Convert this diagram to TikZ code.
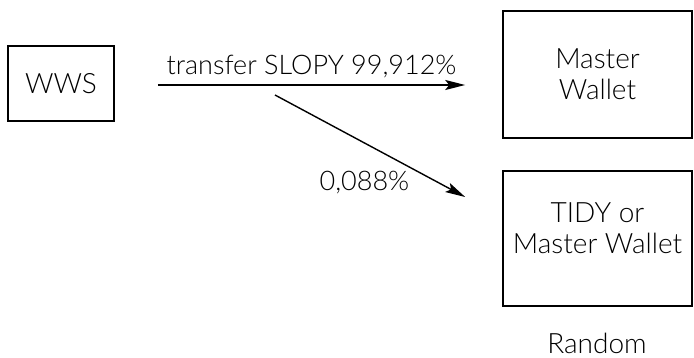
\documentclass[tikz,border=0pt]{standalone}
\usepackage{fontspec}
\setmainfont{Lato Light}
\usetikzlibrary{arrows.meta,positioning,calc}

\begin{document}
\begin{tikzpicture}[->, >={Stealth[length=20pt, width=10pt, inset=4pt]}, x=1pt, y=-1pt, line width=1.4pt]
\tikzstyle{box}=[draw=black, line width=1.6pt, align=center, inner sep=0pt, font=\fontsize{28}{31}\selectfont]
\tikzstyle{lbl}=[font=\fontsize{27}{30}\selectfont, inner sep=2pt]
\useasboundingbox (0,0) rectangle (694,358);
\node[box, minimum width=106pt, minimum height=75pt]    (wws)    at (61,83.5)    {WWS};
\node[box, minimum width=189pt, minimum height=127pt]   (master) at (597.5,74.5)  {Master\\Wallet};
\node[box, minimum width=189pt, minimum height=135pt, text depth=20pt]   (tidy)   at (597.5,238.5) {TIDY or\\Master Wallet};
\node[font=\fontsize{28}{31}\selectfont, inner sep=0pt, anchor=base]   (random) at (597,353) {Random};
\coordinate (split) at (275,95);
\path
($(wws.east)+(43,1.5)$) coordinate (from)
(from) edge node[lbl, above=4pt]    {transfer SLOPY 99,912\%}  ($(master.west)+(-37,10.5)$)
(split) edge node[lbl, pos=0.72, below left]    {0,088\%}   ($(tidy.west)+(-37,-41.5)$);
\end{tikzpicture}
\end{document}
